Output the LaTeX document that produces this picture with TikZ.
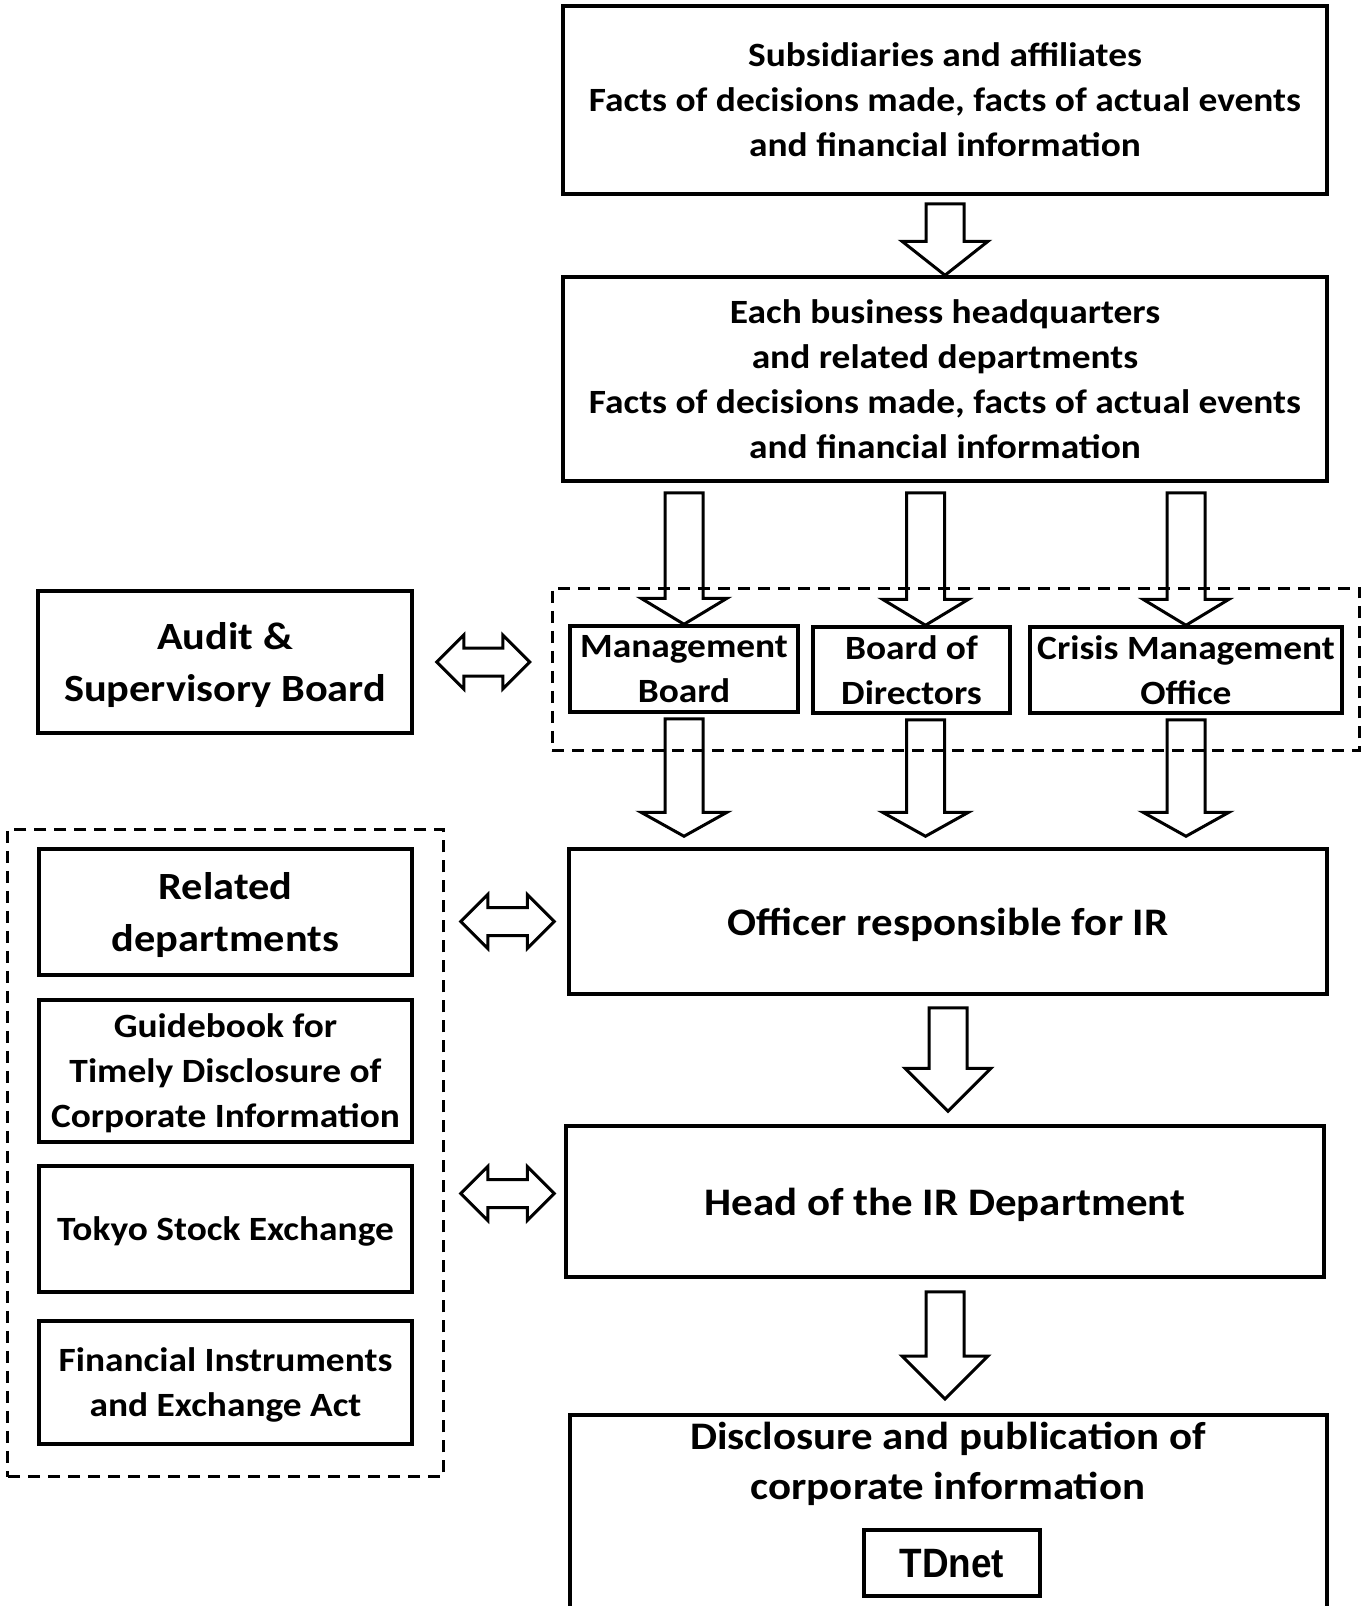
\documentclass[tikz,border=0pt]{standalone}
\usepackage{fontspec}
\setmainfont{Carlito}[FakeStretch=1.1]
\newfontfamily\narrowfont[FakeStretch=0.9]{Liberation Sans}
\usetikzlibrary{calc, fit}

% hollow block arrow pointing down: start, tip, head length
\newcommand{\downblock}[3]{%
  \draw[hollow] let \p1=#1, \p2=#2 in
    (\x1-19,\y1) -- (\x1+19,\y1) -- (\x1+19,\y2+#3) -- (\x1+43,\y2+#3)
    -- (\x1,\y2) -- (\x1-43,\y2+#3) -- (\x1-19,\y2+#3) -- cycle;}
% hollow double arrow, left to right
\newcommand{\sideblock}[2]{%
  \draw[hollow] let \p1=#1, \p2=#2 in
    (\x1,\y1) -- (\x1+27,\y1+27) -- (\x1+27,\y1+14) -- (\x2-27,\y1+14)
    -- (\x2-27,\y1+27) -- (\x2,\y1) -- (\x2-27,\y1-27) -- (\x2-27,\y1-14)
    -- (\x1+27,\y1-14) -- (\x1+27,\y1-27) -- cycle;}

\tikzset{
  plainbox/.style={draw, line width=3.5pt, align=center, inner sep=0pt, text depth=0pt,
    font=\bfseries\fontsize{34}{45}\selectfont},
  midtext/.style={font=\bfseries\fontsize{39}{50}\selectfont},
  bigtext/.style={font=\bfseries\fontsize{38.5}{52}\selectfont},
  groupbox/.style={draw, line width=3pt, dash pattern=on 12pt off 8pt, inner sep=0pt},
  hollow/.style={draw, line width=3pt, line join=miter},
}

\begin{document}
\begin{tikzpicture}[x=1pt, y=-1pt]

\useasboundingbox (0,0) rectangle (1367,1606);
\clip (0,0) rectangle (1367,1606);

% Main column
\node[plainbox, minimum width=764, minimum height=188] (subs) at (945,100)
  {Subsidiaries and affiliates\\Facts of decisions made, facts of actual events\\and financial information};
\node[plainbox, minimum width=764, minimum height=204] (hq) at (945,379)
  {Each business headquarters\\and related departments\\Facts of decisions made, facts of actual events\\and financial information};

% Meeting bodies
\node[plainbox, minimum width=228, minimum height=86] (mgmt) at (684,669) {Management\\Board};
\node[plainbox, minimum width=197, minimum height=86] (bod) at (911.5,670) {Board of\\Directors};
\node[plainbox, minimum width=312, minimum height=86] (crisis) at (1186,670) {Crisis Management\\Office};
\node[groupbox, fit={(mgmt)(bod)(crisis)}, inner xsep=16pt, inner ysep=36pt] (bodies) {};
\coordinate (bodtop) at ([xshift=14pt]bod.north);
\coordinate (bodbottom) at ([xshift=14pt]bod.south);

\node[plainbox, midtext, minimum width=758, minimum height=145] (officer) at (948,921.5) {Officer responsible for IR};
\node[plainbox, midtext, minimum width=758, minimum height=151] (head) at (945,1201.5) {Head of the IR Department};

% Disclosure box runs off the bottom edge
\node[plainbox, minimum width=757, minimum height=240, anchor=north] (pubframe) at (948.5,1413) {};
\node[midtext, align=center, inner sep=0pt] (pubtext) at (948,1464) {Disclosure and publication of\\corporate information};
\node[plainbox, minimum width=176, minimum height=66, font=\narrowfont\bfseries\fontsize{41}{42}\selectfont] (tdnet) at (952,1563) {TDnet};

% Left column
\node[plainbox, bigtext, minimum width=374, minimum height=142] (audit) at (225,662) {Audit \&\\Supervisory Board};
\node[plainbox, bigtext, minimum width=373, minimum height=126] (related) at (225.5,912) {Related\\departments};
\node[plainbox, minimum width=373, minimum height=142] (guide) at (225.5,1071) {Guidebook for\\Timely Disclosure of\\Corporate Information};
\node[plainbox, minimum width=373, minimum height=126] (tokyo) at (225.5,1229) {Tokyo Stock Exchange};
\node[plainbox, minimum width=373, minimum height=123] (fia) at (225.5,1382.5) {Financial Instruments\\and Exchange Act};
\node[groupbox, fit={(related)(fia)([yshift=-13pt]fia.south)}, inner xsep=29.5pt, inner ysep=18pt] (rules) {};

% Downward arrows
\downblock{([yshift=-8pt]subs.south)}{(hq.north)}{34}
\downblock{($(mgmt.north |- hq.south)+(0,10)$)}{(mgmt.north)}{26}
\downblock{($(bodtop |- hq.south)+(0,10)$)}{(bodtop)}{26}
\downblock{($(crisis.north |- hq.south)+(0,10)$)}{(crisis.north)}{26}
\downblock{([yshift=-5pt]mgmt.south)}{($(mgmt.south |- officer.north)+(0,-11)$)}{24}
\downblock{([yshift=-5pt]bodbottom)}{($(bodbottom |- officer.north)+(0,-11)$)}{24}
\downblock{([yshift=-5pt]crisis.south)}{($(crisis.south |- officer.north)+(0,-11)$)}{24}
\downblock{([yshift=-12pt]officer.south)}{([yshift=13pt]head.north)}{43}
\downblock{([yshift=-13pt]head.south)}{([yshift=14pt]pubframe.north)}{43}

% Two-way arrows
\sideblock{([xshift=23pt]audit.east)}{([xshift=-21pt]bodies.west |- audit.east)}
\sideblock{([xshift=16pt]rules.east |- officer.west)}{([xshift=-13pt]officer.west)}
\sideblock{([xshift=16pt,yshift=8pt]rules.east |- head.west)}{([xshift=-10pt,yshift=8pt]head.west)}

\end{tikzpicture}
\end{document}
